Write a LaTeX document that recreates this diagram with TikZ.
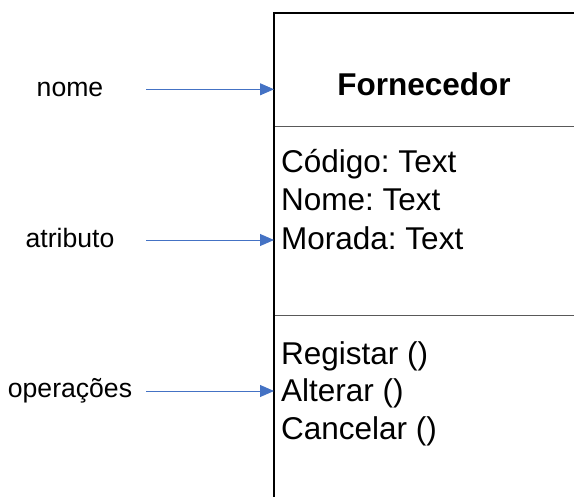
\documentclass[tikz,border=0pt]{standalone}
\usepackage{fontspec}
\setmainfont{Liberation Sans}
\usetikzlibrary{arrows.meta}
\definecolor{arrowblue}{HTML}{4472C4}
\frenchspacing
\tikzset{
  boxline/.style={line width=1.4pt, draw=black},
  divline/.style={line width=1.4pt, draw=black!65},
  pointer/.style={draw=arrowblue, line width=0.9pt, -{Triangle[length=14pt,width=12pt]}},
  lbl/.style={anchor=base, inner sep=0pt, font=\fontsize{26.6}{32}\selectfont},
  member/.style={anchor=base west, inner sep=0pt, font=\fontsize{31.5}{38}\selectfont},
  classname/.style={anchor=base, inner sep=0pt, font=\fontsize{31.5}{38}\selectfont\bfseries}
}
\begin{document}
\begin{tikzpicture}[x=1pt, y=-1pt]
\useasboundingbox (0,0) rectangle (574,497);
% class box (open at right and bottom)
\coordinate (tl) at (274,13);
\coordinate (tr) at (574,13);
\coordinate (bl) at (274,497);
\coordinate (d1l) at (274,126.7);
\coordinate (d1r) at (574,126.7);
\coordinate (d2l) at (274,315.3);
\coordinate (d2r) at (574,315.3);
\draw[divline] (d1l) -- (d1r);
\draw[divline] (d2l) -- (d2r);
\draw[boxline] (tr) -- (tl) -- (bl);
% class texts
\node[classname] (cname) at (424,96) {Fornecedor};
\node[member] (a1) at (281,172.7) {Código: Text};
\node[member] (a2) at (281,211) {Nome: Text};
\node[member] (a3) at (281,249.3) {Morada: Text};
\node[member] (o1) at (281,365) {Registar ()};
\node[member] (o2) at (281,401.7) {Alterar ()};
\node[member] (o3) at (281,440) {Cancelar ()};
% labels
\node[lbl] (lnome) at (70,97) {nome};
\node[lbl] (latr) at (70,248) {atributo};
\node[lbl] (lop) at (70,398) {operações};
% arrow ends
\coordinate (s1) at (146,89.3);
\coordinate (e1) at (274,89.3);
\coordinate (s2) at (146,240);
\coordinate (e2) at (274,240);
\coordinate (s3) at (146,391);
\coordinate (e3) at (274,391);
\draw[pointer] (s1) -- (e1);
\draw[pointer] (s2) -- (e2);
\draw[pointer] (s3) -- (e3);
\end{tikzpicture}
\end{document}
